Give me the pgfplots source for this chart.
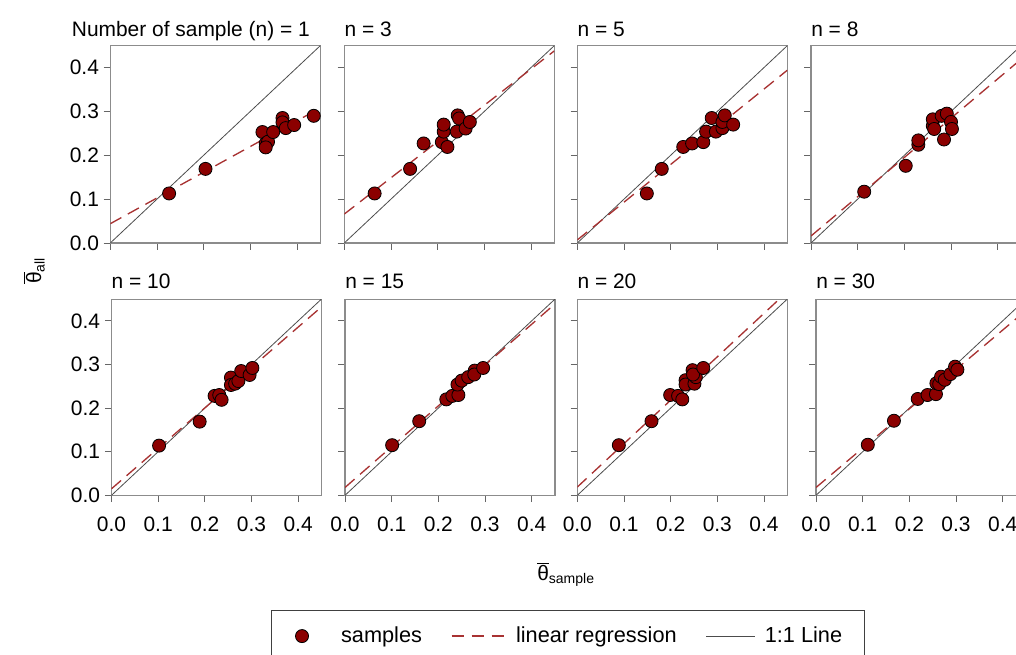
\documentclass[border=0pt]{standalone}
\usepackage{fontspec}
\setmainfont{Liberation Sans}
\usepackage{pgfplots}
\pgfplotsset{compat=1.18}

\definecolor{ptred}{HTML}{8B0000}
\definecolor{regred}{HTML}{A83232}

\newcommand{\labfont}{\fontsize{15.7}{18}\selectfont}

\tikzset{
  one/.style={black!70, line width=0.6pt},
  reg/.style={regred, line width=1pt, dash pattern=on 9.5pt off 5.5pt},
  ptmark/.style={fill=ptred, draw=black, line width=0.6pt},
}

\pgfplotsset{
  panel/.style={
    anchor=south west, scale only axis,
    width=157.5pt,
    xmin=0, xmax=0.45, ymin=0, ymax=0.45,
    xtick={0,0.1,0.2,0.3,0.4}, ytick={0,0.1,0.2,0.3,0.4},
    tick pos=left, tick align=outside, major tick length=5pt,
    axis line style={draw=black!45, line width=0.8pt},
    every tick/.style={draw=black!60, line width=0.7pt},
    ticklabel style={font=\labfont},
    xticklabel style={yshift=-7.5pt},
    /pgf/number format/fixed,
    /pgf/number format/fixed zerofill,
    /pgf/number format/precision=1,
    /pgf/number format/assume math mode=true,
    every axis title shift=0pt,
    title style={at={(0,1)}, anchor=base west, inner sep=0pt, font=\labfont},
  },
  row1/.style={height=148pt, xticklabel=\empty, title style={yshift=6.5pt}},
  row2/.style={height=147.2pt, title style={yshift=8pt}},
  inner/.style={yticklabel=\empty},
  pts/.style={only marks, mark=*, mark size=4.9pt, mark options={ptmark}},
}

\begin{document}
\begin{tikzpicture}
\useasboundingbox (0,0) rectangle (762pt,-491.25pt);
\clip (0,0) rectangle (762pt,-491.25pt);

% ---------- top row ----------
\begin{axis}[panel, row1, at={(82.725pt,-182.25pt)},
  title={Number of sample (n) = 1}, title style={xshift=-29pt}]
  \addplot[one] coordinates {(0,0) (0.45,0.45)};
  \addplot[reg] coordinates {(0,0.044) (0.45,0.308)};
  \addplot[pts] coordinates {(0.126,0.113) (0.204,0.169) (0.326,0.253) (0.333,0.227)
    (0.338,0.231) (0.333,0.218) (0.349,0.253) (0.369,0.285) (0.369,0.275)
    (0.376,0.262) (0.394,0.269) (0.436,0.290)};
\end{axis}

\begin{axis}[panel, row1, inner, at={(258.225pt,-182.25pt)}, title={n = 3}]
  \addplot[one] coordinates {(0,0) (0.45,0.45)};
  \addplot[reg] coordinates {(0,0.066) (0.45,0.438)};
  \addplot[pts] coordinates {(0.065,0.113) (0.141,0.169) (0.170,0.227) (0.209,0.230)
    (0.221,0.219) (0.213,0.254) (0.213,0.270) (0.241,0.254) (0.243,0.291)
    (0.246,0.284) (0.260,0.261) (0.269,0.276)};
\end{axis}

\begin{axis}[panel, row1, inner, at={(432.975pt,-182.25pt)}, title={n = 5}]
  \addplot[one] coordinates {(0,0) (0.45,0.45)};
  \addplot[reg] coordinates {(0,0.007) (0.45,0.394)};
  \addplot[pts] coordinates {(0.149,0.113) (0.181,0.169) (0.227,0.219) (0.246,0.227)
    (0.270,0.230) (0.276,0.254) (0.288,0.285) (0.297,0.254) (0.311,0.262)
    (0.311,0.276) (0.316,0.291) (0.334,0.270)};
\end{axis}

\begin{axis}[panel, row1, inner, at={(608.25pt,-182.25pt)}, title={n = 8}]
  \addplot[one] coordinates {(0,0) (0.45,0.45)};
  \addplot[reg] coordinates {(0,0.016) (0.45,0.419)};
  \addplot[pts] coordinates {(0.114,0.117) (0.203,0.176) (0.230,0.224) (0.230,0.234)
    (0.261,0.267) (0.261,0.282) (0.264,0.260) (0.280,0.290) (0.291,0.295)
    (0.300,0.276) (0.302,0.260) (0.285,0.236)};
\end{axis}

% ---------- bottom row ----------
\begin{axis}[panel, row2, at={(83.6pt,-371.5pt)}, title={n = 10},
  legend columns=3, legend cell align=left,
  legend style={at={(0.7595,-0.5843)}, anchor=north west,
    draw=black!75, line width=0.8pt, inner xsep=0pt, inner ysep=12.5pt,
    column sep=0pt, font=\fontsize{16.3}{19}\selectfont,
    nodes={inner sep=0pt, text depth=0.15em}}]
  \addplot[one, forget plot] coordinates {(0,0) (0.45,0.45)};
  \addplot[reg, forget plot] coordinates {(0,0.015) (0.45,0.432)};
  \addplot[pts, forget plot] coordinates {(0.102,0.114) (0.189,0.169) (0.221,0.228)
    (0.231,0.230) (0.236,0.219) (0.256,0.270) (0.256,0.253) (0.265,0.256)
    (0.272,0.262) (0.278,0.285) (0.296,0.276) (0.302,0.292)};
  \addlegendimage{legend image code/.code={
      \path (0pt,0pt) (51.4pt,0pt);
      \draw[mark=*, mark size=4.9pt, mark options={ptmark}]
        plot coordinates {(22.5pt,0pt)};}}
  \addlegendentry{samples}
  \addlegendimage{legend image code/.code={
      \path (0pt,0pt) (69.75pt,0pt);
      \draw[reg] (21.75pt,0pt) -- (60.75pt,0pt);}}
  \addlegendentry{linear regression}
  \addlegendimage{legend image code/.code={
      \path (0pt,0pt) (65.25pt,0pt);
      \draw[one] (21.75pt,0pt) -- (58.5pt,0pt);}}
  \addlegendentry{1:1 Line\hspace*{16.9pt}}
\end{axis}

\begin{axis}[panel, row2, inner, at={(258.75pt,-371.5pt)}, title={n = 15}]
  \addplot[one] coordinates {(0,0) (0.45,0.45)};
  \addplot[reg] coordinates {(0,0.018) (0.45,0.439)};
  \addplot[pts] coordinates {(0.101,0.115) (0.159,0.170) (0.217,0.220) (0.230,0.228)
    (0.243,0.230) (0.241,0.254) (0.250,0.263) (0.264,0.271) (0.278,0.286)
    (0.277,0.277) (0.296,0.292)};
\end{axis}

\begin{axis}[panel, row2, inner, at={(432.975pt,-371.5pt)}, title={n = 20}]
  \addplot[one] coordinates {(0,0) (0.45,0.45)};
  \addplot[reg] coordinates {(0,0.019) (0.45,0.467)};
  \addplot[pts] coordinates {(0.089,0.115) (0.159,0.170) (0.199,0.230) (0.216,0.228)
    (0.225,0.220) (0.232,0.264) (0.232,0.254) (0.247,0.287) (0.251,0.256)
    (0.254,0.271) (0.248,0.277) (0.270,0.292)};
\end{axis}

\begin{axis}[panel, row2, inner, at={(612pt,-371.5pt)}, title={n = 30}]
  \addplot[one] coordinates {(0,0) (0.45,0.45)};
  \addplot[reg] coordinates {(0,0.018) (0.45,0.424)};
  \addplot[pts] coordinates {(0.111,0.116) (0.167,0.171) (0.218,0.221) (0.239,0.230)
    (0.257,0.232) (0.258,0.257) (0.264,0.255) (0.268,0.272) (0.276,0.265)
    (0.288,0.278) (0.298,0.295) (0.303,0.288)};
\end{axis}

% shared axis titles
\node[rotate=90] at (25.5pt,-203pt)
  {\labfont$\overline{\mbox{θ}}_{\mbox{\fontsize{10.5}{12}\selectfont all}}$};
\node at (424.5pt,-431pt)
  {\labfont$\overline{\mbox{θ}}_{\mbox{\fontsize{10.5}{12}\selectfont sample}}$};
\end{tikzpicture}
\end{document}
